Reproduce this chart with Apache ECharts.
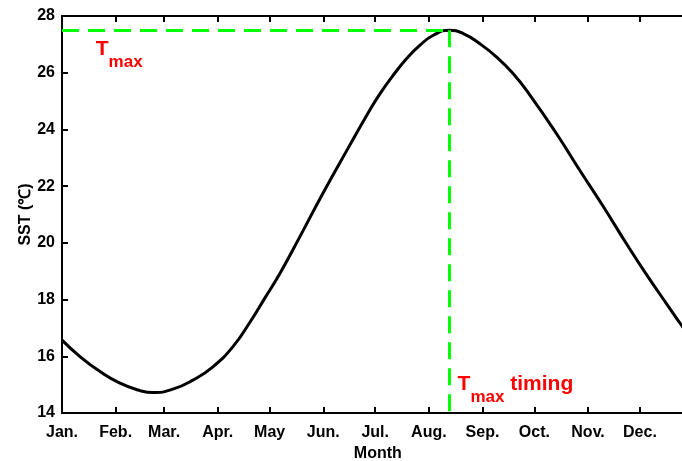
<!DOCTYPE html>
<html>
<head>
<meta charset="utf-8">
<script src="https://cdn.jsdelivr.net/npm/echarts@6/dist/echarts.min.js"></script>
<style>
html,body{margin:0;padding:0;background:#fff;}
#chart{width:682px;height:461px;}
</style>
</head>
<body>
<div id="chart"></div>
<script>
// Month tick labels and the day-of-year at which each month starts
const months = ['Jan.','Feb.','Mar.','Apr.','May','Jun.','Jul.','Aug.','Sep.','Oct.','Nov.','Dec.'];
const monthStartDays = [0,31,59,90,120,151,181,212,243,273,304,334];
// Climatological SST curve (day of year, °C)
const dayOfYear = [0,10.4,22,33.5,45.1,52.6,64.1,75.7,87.2,98.8,108.6,117.3,126,137.5,150.8,164.7,178,183.8,191.4,199.2,206.9,214.6,223.8,231.9,241.5,251.2,260.8,270.4,285.9,299.3,312.8,326.3,337.9,349.4,358.3,365];
const sst = [16.57,15.99,15.46,15.05,14.79,14.72,14.84,15.16,15.63,16.34,17.20,18.06,18.93,20.22,21.75,23.27,24.69,25.26,25.91,26.50,26.97,27.32,27.50,27.38,27.02,26.55,25.96,25.21,23.84,22.55,21.28,19.96,18.87,17.85,17.07,16.55];
// y-axis range
const yMin = 14, yMax = 28, yStep = 2;
// annotation anchors (day of year, °C)
const tmaxLabelAt = [19.5, 26.795];
const timingLabelAt = [228.6, 15.0];

const FONT = '"Liberation Sans", Arial, Helvetica, sans-serif';
const curve = dayOfYear.map((d, i) => [d, sst[i]]);
let iMax = 0;
sst.forEach((v, i) => { if (v > sst[iMax]) iMax = i; });
const peakDay = dayOfYear[iMax], peakVal = sst[iMax];

const green = '#00ff00';
const red = '#ff0000';
const rich = {
  t: {fontFamily: FONT, fontWeight: 'bold', fontSize: 21, lineHeight: 21, color: red, padding: [0,0,11,0], verticalAlign: 'bottom'},
  s: {fontFamily: FONT, fontWeight: 'bold', fontSize: 17, lineHeight: 17, color: red, verticalAlign: 'bottom'}
};

const chart = echarts.init(document.getElementById('chart'), null, {renderer: 'canvas'});
const axisLineStyle = {color: '#000', width: 2};
chart.setOption({
  animation: false,
  backgroundColor: '#fff',
  grid: {left: 62, top: 16, width: 631.6, height: 397, containLabel: false, outerBoundsMode: 'none'},
  xAxis: [{
    type: 'value', min: 0, max: 365, position: 'bottom',
    name: 'Month', nameLocation: 'middle', nameGap: 33, nameMoveOverlap: false,
    nameTextStyle: {fontFamily: FONT, fontWeight: 'bold', fontSize: 16, color: '#000'},
    axisLine: {show: true, onZero: false, lineStyle: axisLineStyle},
    axisTick: {show: true, inside: true, length: 6, customValues: monthStartDays, lineStyle: {color: '#000', width: 2}},
    axisLabel: {show: true, margin: 12, customValues: monthStartDays,
      formatter: v => months[monthStartDays.indexOf(v)] || '',
      fontFamily: FONT, fontWeight: 'bold', fontSize: 16, color: '#000'},
    splitLine: {show: false}
  }, {
    type: 'value', min: 0, max: 365, position: 'top',
    axisLine: {show: true, onZero: false, lineStyle: axisLineStyle},
    axisTick: {show: true, inside: true, length: 6, customValues: monthStartDays, lineStyle: {color: '#000', width: 2}},
    axisLabel: {show: false},
    splitLine: {show: false}
  }],
  yAxis: {
    type: 'value', min: yMin, max: yMax, interval: yStep,
    name: 'SST (℃)', nameLocation: 'middle', nameGap: 28, nameMoveOverlap: false,
    nameTextStyle: {fontFamily: FONT, fontWeight: 'bold', fontSize: 16, color: '#000'},
    axisLine: {show: true, onZero: false, lineStyle: axisLineStyle},
    axisTick: {show: true, inside: true, length: 6, lineStyle: {color: '#000', width: 2}},
    axisLabel: {margin: 7, fontFamily: FONT, fontWeight: 'bold', fontSize: 16, color: '#000'},
    splitLine: {show: false}
  },
  series: [{
    name: 'guide', type: 'line', data: [], z: 1, silent: true,
    markLine: {
      silent: true, symbol: ['none','none'], animation: false,
      label: {show: false},
      lineStyle: {color: green, width: 3, type: [17, 9]},
      data: [
        [{coord: [0, peakVal]}, {coord: [peakDay, peakVal]}],
        [{coord: [peakDay, peakVal]}, {coord: [peakDay, yMin]}]
      ]
    },
    markPoint: {
      silent: true, symbol: 'circle', symbolSize: 0, animation: false,
      label: {show: true, position: [0, 0], align: 'left', verticalAlign: 'top', rich: rich},
      data: [
        {coord: tmaxLabelAt, label: {formatter: '{t|T}{s|max}'}},
        {coord: timingLabelAt, label: {formatter: '{t|T}{s|max}{t| timing}'}}
      ]
    }
  }, {
    name: 'SST', type: 'line', data: curve, z: 3,
    smooth: 0.5, showSymbol: false, symbol: 'none',
    lineStyle: {color: '#000', width: 3},
    clip: true
  }]
});
</script>
</body>
</html>
